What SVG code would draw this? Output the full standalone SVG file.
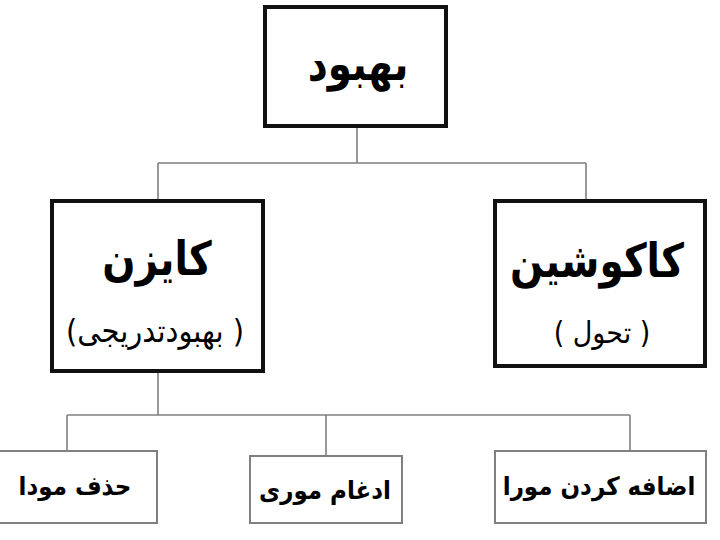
<svg xmlns="http://www.w3.org/2000/svg" width="720" height="540" viewBox="0 0 720 540">
<style>
.main{fill:#fff;stroke:#111;stroke-width:4}
.sub{fill:#fff;stroke:#808080;stroke-width:2}
.conn{fill:none;stroke:#808080;stroke-width:1.6}
.t{font-family:"DejaVu Sans",sans-serif;font-weight:bold;fill:#000;text-anchor:middle;direction:rtl}
.big{font-size:39px}
.mid{font-weight:normal}
.small{font-size:23px}
</style>
<rect width="720" height="540" fill="#fff"/>
<g id="connectors">
<path class="conn" d="M357 127V163M158 163H586M158 163V199M586 163V199"/>
<path class="conn" d="M158 373V415M67 415H630M67 415V450M326 415V455M630 415V450"/>
</g>
<g id="n-behbood">
<rect class="main" x="265" y="7" width="181" height="119"/>
<text class="t big" transform="translate(358,80) scale(1,1.2)">بهبود</text>
</g>
<g id="n-kaizen">
<rect class="main" x="52" y="201" width="211" height="170"/>
<text class="t big" transform="translate(157,275) scale(1,1.2)">کایزن</text>
<text class="t mid" font-size="29" transform="translate(155,342) scale(1,1.1)">( بهبودتدریجی)</text>
</g>
<g id="n-kaikaku">
<rect class="main" x="495" y="201" width="210" height="165"/>
<text class="t big" transform="translate(597,277) scale(1,1.2)">کاکوشین</text>
<text class="t mid" font-size="27" transform="translate(602,343) scale(1,1.1)">( تحول )</text>
</g>
<g id="n-hazf">
<rect class="sub" x="-2" y="451" width="159" height="72"/>
<text class="t small" transform="translate(75,495) scale(1,1.1)">حذف مودا</text>
</g>
<g id="n-edgham">
<rect class="sub" x="250" y="456" width="152" height="67"/>
<text class="t small" transform="translate(325,499) scale(1,1.1)">ادغام موری</text>
</g>
<g id="n-ezafe">
<rect class="sub" x="495" y="451" width="211" height="72"/>
<text class="t small" transform="translate(599,495) scale(1,1.1)">اضافه کردن مورا</text>
</g>
</svg>
